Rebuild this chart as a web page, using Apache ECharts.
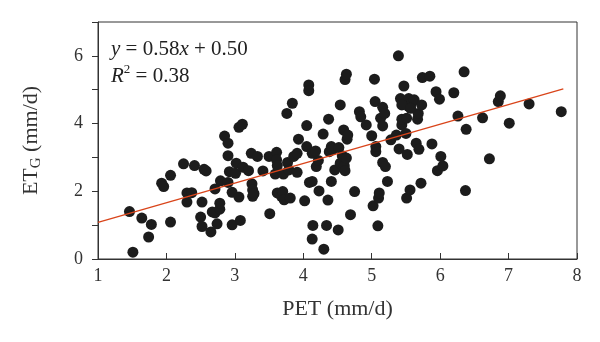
<!DOCTYPE html>
<html><head><meta charset="utf-8">
<script src="https://cdn.jsdelivr.net/npm/echarts@6/dist/echarts.min.js"></script>
<style>html,body{margin:0;padding:0;background:#fff}#c{width:600px;height:342px}</style>
</head><body><div id="c"></div>
<script>
const petValues = [1.46,1.51,1.64,1.74,1.78,1.93,1.96,2.06,2.06,2.25,2.30,2.30,2.37,2.41,2.50,2.52,2.52,2.55,2.58,2.65,2.67,2.71,2.71,2.74,2.78,2.78,2.79,2.85,2.90,2.90,2.90,2.92,2.96,2.96,3.01,3.02,3.06,3.08,3.06,3.11,3.12,3.20,3.24,3.25,3.26,3.26,3.28,3.33,3.41,3.50,3.51,3.59,3.61,3.61,3.62,3.62,3.68,3.70,3.71,3.72,3.76,3.77,3.79,3.81,3.84,3.86,3.91,3.91,3.93,4.02,4.05,4.05,4.08,4.08,4.09,4.13,4.13,4.13,4.14,4.18,4.19,4.22,4.23,4.29,4.30,4.34,4.36,4.37,4.38,4.41,4.41,4.43,4.46,4.51,4.52,4.54,4.54,4.57,4.59,4.60,4.61,4.61,4.63,4.63,4.64,4.65,4.69,4.75,4.82,4.84,4.92,5.00,5.02,5.04,5.05,5.06,5.06,5.09,5.10,5.11,5.13,5.16,5.16,5.16,5.19,5.20,5.23,5.28,5.36,5.39,5.40,5.42,5.44,5.44,5.47,5.48,5.50,5.51,5.51,5.52,5.54,5.54,5.56,5.58,5.62,5.65,5.67,5.68,5.69,5.72,5.73,5.74,5.85,5.88,5.94,5.96,5.99,6.01,6.04,6.20,6.26,6.35,6.37,6.38,6.62,6.72,6.85,6.88,7.01,7.30,7.77,5.44,5.57];
const etgValues = [1.40,0.20,1.21,0.65,1.02,2.24,2.14,1.09,2.47,2.81,1.95,1.68,1.96,2.76,1.24,0.96,1.68,2.65,2.60,0.80,1.39,1.36,2.07,1.04,1.47,1.65,2.31,3.63,3.42,3.05,2.26,2.58,1.97,1.01,2.53,2.83,1.83,1.14,3.89,3.98,2.71,2.61,3.12,2.22,1.85,2.04,1.93,3.03,2.60,3.03,1.34,2.51,3.15,2.93,2.76,1.95,1.85,1.99,2.51,1.75,4.30,2.85,2.63,1.80,4.60,3.03,2.56,3.12,3.54,1.72,3.94,3.32,5.14,4.97,2.26,3.12,2.29,0.59,0.99,3.19,2.73,2.91,2.01,3.69,0.29,0.99,1.74,4.13,3.17,3.32,2.29,3.24,2.63,0.86,3.29,4.55,2.83,3.05,3.81,2.75,2.61,5.30,5.46,2.98,3.54,3.66,1.31,1.99,4.35,4.20,3.96,3.64,1.57,5.31,4.65,3.17,3.32,0.98,1.80,1.95,4.16,4.48,3.93,2.85,4.30,2.73,2.29,3.52,3.66,6.00,3.25,4.74,3.96,4.13,5.11,4.60,3.71,4.16,1.80,3.09,4.74,4.50,2.04,4.60,4.70,3.42,4.13,4.30,3.24,2.24,4.55,5.36,5.40,3.40,4.94,2.61,4.72,3.03,2.75,4.91,4.22,5.53,2.02,3.83,4.17,2.96,4.65,4.82,4.01,4.58,4.35,4.55,4.45];
const fitSlope = 0.58, fitIntercept = 0.50;
const fitRange = [1.0, 7.8];
const xTicks = [1,2,3,4,5,6,7,8];
const yTicks = [0,2,4,6];

const scatterData = petValues.map((x,i)=>[x, etgValues[i]]);
const fitData = fitRange.map(x=>[x, fitSlope*x + fitIntercept]);
const serif = '"Liberation Serif","DejaVu Serif",serif';
const chart = echarts.init(document.getElementById('c'), null, {renderer:'canvas'});
chart.setOption({
  animation:false,
  backgroundColor:'#fff',
  grid:{left:98,right:23,top:22,bottom:83,show:true,borderColor:'#333',borderWidth:1},
  xAxis:{type:'value',min:1,max:8,interval:1,
    name:'PET (mm/d)',nameLocation:'middle',nameGap:39,
    nameTextStyle:{fontFamily:serif,fontSize:22,color:'#333'},
    axisLine:{lineStyle:{color:'#333',width:1}},
    axisTick:{inside:true,length:6,lineStyle:{color:'#333'}},
    axisLabel:{fontFamily:serif,fontSize:18,color:'#333',margin:8},
    splitLine:{show:false}},
  yAxis:{type:'value',min:0,max:7,interval:1,
    name:'{n|ET}{s|G}{n| (mm/d)}',nameLocation:'middle',nameGap:54,
    nameTextStyle:{rich:{n:{fontFamily:serif,fontSize:22,color:'#333'},s:{fontFamily:serif,fontSize:15,color:'#333',verticalAlign:'bottom',padding:[10,0,0,0]}}},
    axisLine:{lineStyle:{color:'#333',width:1}},
    axisTick:{length:6,lineStyle:{color:'#333'},interval:0},
    axisLabel:{fontFamily:serif,fontSize:18,color:'#333',margin:15,
      formatter:v=>yTicks.includes(v)?String(v):''},
    splitLine:{show:false}},
  graphic:[{type:'text',left:111,top:36,style:{
    text:'{i|y} = 0.58{i|x} + 0.50\n{i|R}{sup|2} = 0.38',
    rich:{i:{fontFamily:serif,fontStyle:'italic',fontSize:21,fill:'#222'},
          sup:{fontFamily:serif,fontSize:13,fill:'#222',verticalAlign:'top',padding:[0,0,10,0]}},
    fontFamily:serif,fontSize:21,fill:'#222',lineHeight:27}}],
  series:[
    {type:'scatter',data:scatterData,symbolSize:11,itemStyle:{color:'#1c1c1c',opacity:1},z:2},
    {type:'line',data:fitData,showSymbol:false,lineStyle:{color:'#d9441a',width:1.3},z:3}
  ]
});
</script></body></html>
